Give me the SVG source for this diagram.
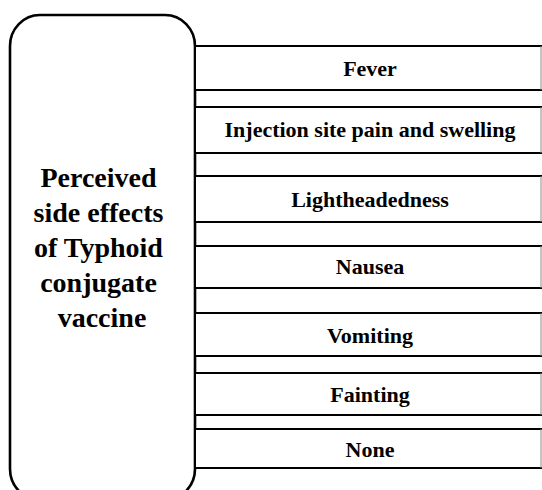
<svg xmlns="http://www.w3.org/2000/svg" width="542" height="490" viewBox="0 0 542 490">
  <style>
    .main { fill: #ffffff; stroke: #000000; stroke-width: 2.6; }
    .box { fill: #ffffff; stroke: none; }
    .edge { fill: none; stroke: #000000; stroke-width: 2.2; }
    .rim { fill: none; stroke: #8a8a8a; stroke-width: 1; }
    .lbl { font-family: "Liberation Serif", "Times New Roman", serif; font-weight: bold; font-size: 22px; fill: #000000; text-anchor: middle; }
    .title { font-family: "Liberation Serif", "Times New Roman", serif; font-weight: bold; font-size: 28px; fill: #000000; text-anchor: middle; }
  </style>
  <rect x="0" y="0" width="542" height="490" fill="#ffffff"/>
  <g id="center-node">
    <rect class="main" x="10" y="15" width="185" height="485" rx="30" ry="31"/>
    <text class="title">
      <tspan x="102" y="186.5">Perceived</tspan>
      <tspan x="102" y="221.5">side effects</tspan>
      <tspan x="102" y="256.5">of Typhoid</tspan>
      <tspan x="102" y="291.5">conjugate</tspan>
      <tspan x="102" y="326.5">vaccine</tspan>
    </text>
  </g>
  <g id="connectors"></g>
  <g id="node-fever">
    <rect class="box" x="196" y="46" width="345" height="44"/>
    <path class="edge" d="M195,46 H542 M195,90 H542"/>
    <path class="rim" d="M541,46 V90"/>
    <text class="lbl" x="370" y="76">Fever</text>
  </g>
  <g id="node-injection">
    <rect class="box" x="196" y="107" width="345" height="46"/>
    <path class="edge" d="M195,107 H542 M195,153 H542"/>
    <path class="rim" d="M541,107 V153"/>
    <text class="lbl" x="370" y="137.3">Injection site pain and swelling</text>
  </g>
  <g id="node-lightheadedness">
    <rect class="box" x="196" y="176" width="345" height="46"/>
    <path class="edge" d="M195,176 H542 M195,222 H542"/>
    <path class="rim" d="M541,176 V222"/>
    <text class="lbl" x="370" y="206.5">Lightheadedness</text>
  </g>
  <g id="node-nausea">
    <rect class="box" x="196" y="246" width="345" height="42"/>
    <path class="edge" d="M195,246 H542 M195,288 H542"/>
    <path class="rim" d="M541,246 V288"/>
    <text class="lbl" x="370" y="274.3">Nausea</text>
  </g>
  <g id="node-vomiting">
    <rect class="box" x="196" y="313" width="345" height="43"/>
    <path class="edge" d="M195,313 H542 M195,356 H542"/>
    <path class="rim" d="M541,313 V356"/>
    <text class="lbl" x="370" y="342.5">Vomiting</text>
  </g>
  <g id="node-fainting">
    <rect class="box" x="196" y="373" width="345" height="42"/>
    <path class="edge" d="M195,373 H542 M195,415 H542"/>
    <path class="rim" d="M541,373 V415"/>
    <text class="lbl" x="370" y="401.7">Fainting</text>
  </g>
  <g id="node-none">
    <rect class="box" x="196" y="429" width="345" height="39"/>
    <path class="edge" d="M195,429 H542 M195,468 H542"/>
    <path class="rim" d="M541,429 V468"/>
    <text class="lbl" x="370" y="457">None</text>
  </g>
</svg>
